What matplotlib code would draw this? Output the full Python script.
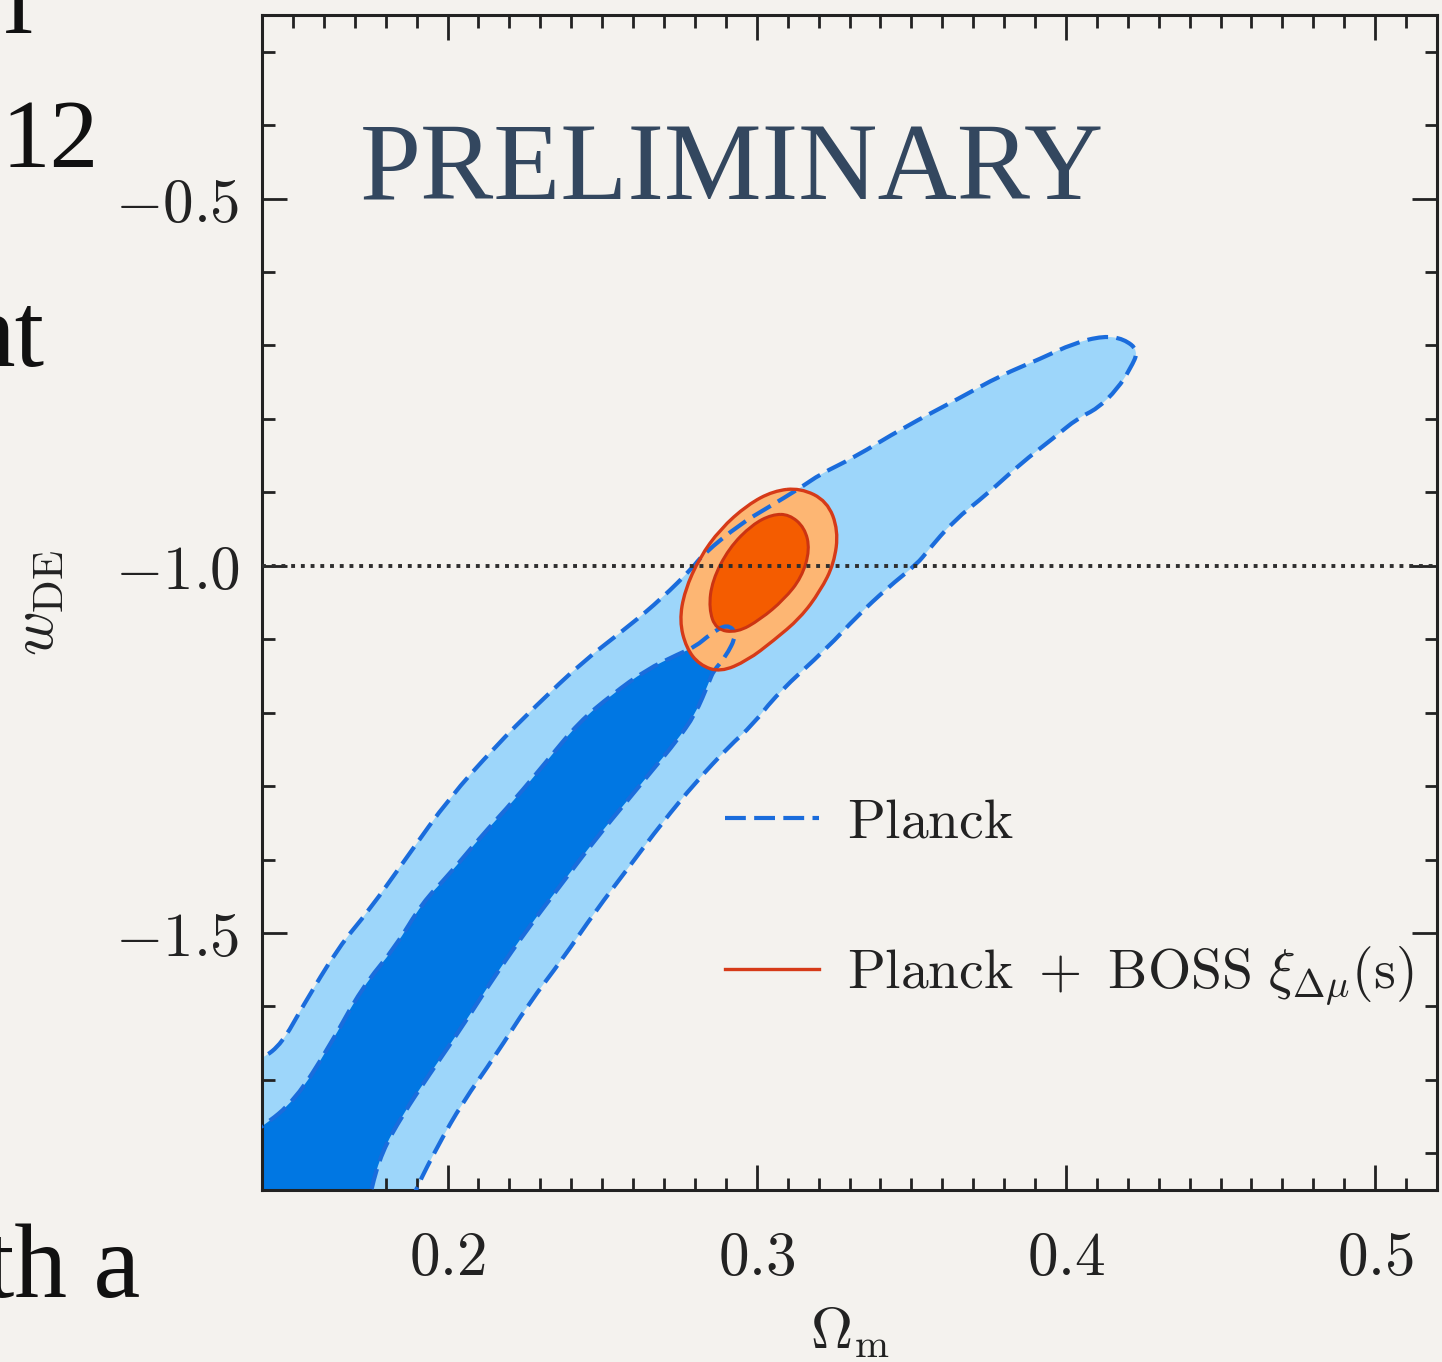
import numpy as np
import matplotlib.pyplot as plt
from matplotlib.path import Path
from matplotlib.patches import PathPatch
from matplotlib.lines import Line2D
from matplotlib.ticker import MultipleLocator, FuncFormatter

plt.rcParams['mathtext.fontset'] = 'cm'

# Planck 95% contour (Omega_m, w_DE); first/last points lie outside the frame
planck_2s_om = [0.125, 0.140, 0.1465, 0.153, 0.1648, 0.1745, 0.1875, 0.2004, 0.2155, 0.2285,
                0.2436, 0.2587, 0.2694, 0.2792, 0.2827, 0.2947, 0.3035, 0.3141, 0.3206, 0.3313,
                0.3474, 0.3659, 0.3788, 0.3918, 0.4025, 0.4122, 0.4187, 0.4235, 0.4209, 0.4167,
                0.4102, 0.4038, 0.3960, 0.3853, 0.3746, 0.3636, 0.3552, 0.3520, 0.3423, 0.3326,
                0.3228, 0.3067, 0.2986, 0.2910, 0.2802, 0.2694, 0.2587, 0.2479, 0.2371, 0.2263,
                0.2155, 0.2047, 0.1972, 0.1896, 0.1870, 0.125]
planck_2s_w = [-1.700, -1.672, -1.650, -1.601, -1.519, -1.470, -1.393, -1.317, -1.246, -1.191,
               -1.131, -1.082, -1.044, -1.003, -0.984, -0.943, -0.921, -0.894, -0.875, -0.853,
               -0.812, -0.771, -0.741, -0.718, -0.697, -0.687, -0.691, -0.707, -0.731, -0.759,
               -0.786, -0.799, -0.826, -0.861, -0.902, -0.939, -0.980, -0.997, -1.030, -1.068,
               -1.112, -1.174, -1.217, -1.246, -1.295, -1.350, -1.410, -1.470, -1.536, -1.596,
               -1.667, -1.732, -1.787, -1.850, -1.880, -1.880]

# Planck 68% contour
planck_1s_om = [0.125, 0.140, 0.1508, 0.1616, 0.1724, 0.1832, 0.1918, 0.2004, 0.2101, 0.2220,
                0.2317, 0.2425, 0.2533, 0.2641, 0.2748, 0.2802, 0.2850, 0.2905, 0.2937, 0.2898,
                0.2860, 0.2846, 0.2802, 0.2738, 0.2673, 0.2587, 0.2479, 0.2371, 0.2263, 0.2155,
                0.2047, 0.1939, 0.1853, 0.1788, 0.1752, 0.1740, 0.125]
planck_1s_w = [-1.800, -1.765, -1.727, -1.656, -1.574, -1.519, -1.459, -1.421, -1.372, -1.317,
               -1.268, -1.213, -1.175, -1.142, -1.120, -1.110, -1.093, -1.079, -1.093, -1.125,
               -1.143, -1.158, -1.202, -1.240, -1.273, -1.317, -1.372, -1.432, -1.492, -1.557,
               -1.628, -1.694, -1.749, -1.798, -1.850, -1.880, -1.880]

# Planck + BOSS contours
boss_2s_om = [0.3141, 0.3228, 0.3264, 0.3250, 0.3206, 0.3141, 0.3054, 0.2970, 0.2882,
              0.2815, 0.2772, 0.2750, 0.2767, 0.2815, 0.2882, 0.2970, 0.3054]
boss_2s_w = [-0.894, -0.912, -0.952, -0.997, -1.034, -1.071, -1.102, -1.129, -1.145,
             -1.135, -1.112, -1.075, -1.034, -0.989, -0.950, -0.917, -0.898]

boss_1s_om = [0.3105, 0.3155, 0.3172, 0.3145, 0.3088, 0.3012, 0.2937, 0.2868, 0.2845,
              0.2856, 0.2910, 0.2985, 0.3050]
boss_1s_w = [-0.930, -0.948, -0.978, -1.016, -1.046, -1.073, -1.091, -1.087, -1.058,
             -1.020, -0.976, -0.944, -0.930]

w_lcdm = -1.0
labels = [r'$\mathrm{Planck}$', r'$\mathrm{Planck}\ +\ \mathrm{BOSS}\ \xi_{\Delta\mu}(\mathrm{s})$']

bg = '#F4F2EE'
light_blue = '#9DD6FA'
dark_blue = '#0077E3'
dash_blue = '#1A6CDC'
light_orange = '#FDB673'
dark_orange = '#F45C00'
red_line = '#D63A18'


def smooth_path(xs, ys):
    # closed curve through midpoints, original points used as control points
    pts = np.column_stack([xs, ys])
    mids = (pts + np.roll(pts, -1, axis=0)) / 2
    verts = [mids[-1]]
    codes = [Path.MOVETO]
    for i in range(len(pts)):
        verts += [pts[i], mids[i]]
        codes += [Path.CURVE3, Path.CURVE3]
    return Path(verts, codes)


fig = plt.figure(figsize=(14.42, 13.62), dpi=100)
fig.patch.set_facecolor(bg)
ax = fig.add_axes([262 / 1442, 1 - 1190 / 1362, 1175 / 1442, 1175 / 1362])
ax.set_facecolor(bg)

p2 = smooth_path(planck_2s_om, planck_2s_w)
p1 = smooth_path(planck_1s_om, planck_1s_w)
b2 = smooth_path(boss_2s_om, boss_2s_w)
b1 = smooth_path(boss_1s_om, boss_1s_w)

ax.add_patch(PathPatch(p2, facecolor=light_blue, edgecolor='none', zorder=1))
ax.add_patch(PathPatch(p1, facecolor=dark_blue, edgecolor='none', zorder=2))
ax.add_patch(PathPatch(b2, facecolor=light_orange, edgecolor='none', zorder=3))
ax.add_patch(PathPatch(b1, facecolor=dark_orange, edgecolor='none', zorder=4))
ax.add_patch(PathPatch(p2, fill=False, edgecolor=dash_blue, lw=3.0, linestyle=(0, (5, 2)), zorder=5))
ax.add_patch(PathPatch(p1, fill=False, edgecolor=dash_blue, lw=3.0, linestyle=(0, (5, 2)), zorder=5))
ax.add_patch(PathPatch(b2, fill=False, edgecolor=red_line, lw=2.4, zorder=6))
ax.add_patch(PathPatch(b1, fill=False, edgecolor='#CC3412', lw=2.2, zorder=6))

ax.axhline(w_lcdm, color='#2e2e2e', lw=2.8, linestyle=(0, (1, 1.5)), zorder=7)

ax.set_xlim(0.14, 0.52)
ax.set_ylim(-1.85, -0.25)

ax.xaxis.set_major_locator(MultipleLocator(0.1))
ax.xaxis.set_minor_locator(MultipleLocator(0.01))
ax.yaxis.set_major_locator(MultipleLocator(0.5))
ax.yaxis.set_minor_locator(MultipleLocator(0.1))
fmt = FuncFormatter(lambda v, p: f'${v:.1f}$')
ax.xaxis.set_major_formatter(fmt)
ax.yaxis.set_major_formatter(fmt)
ax.tick_params(which='both', direction='in', top=True, right=True, width=2, color='#222222')
ax.tick_params(which='major', length=18, labelsize=44, labelcolor='#222222')
ax.tick_params(which='minor', length=9)
ax.tick_params(axis='x', which='major', pad=28)
ax.tick_params(axis='y', which='major', pad=16)
for s in ax.spines.values():
    s.set_linewidth(2.2)
    s.set_color('#222222')

ax.set_xlabel(r'$\Omega_{\rm m}$', fontsize=42, color='#222222', va='top')
ax.xaxis.set_label_coords(0.5, -0.096)
ax.set_ylabel(r'$w_{\rm DE}$', fontsize=44, color='#222222')
ax.yaxis.set_label_coords(-0.166, 0.5)

handles = [Line2D([], [], color=dash_blue, lw=3.0, linestyle=(0, (5, 2))),
           Line2D([], [], color=red_line, lw=2.4)]
leg = ax.legend(handles, labels, loc='upper left', bbox_to_anchor=(0.394, 0.336),
                frameon=False, fontsize=40, handlelength=1.7, handletextpad=0.5,
                labelspacing=1.72, borderpad=0, borderaxespad=0)
for t in leg.get_texts():
    t.set_color('#222222')

# slide text around the chart
fig.text(360 / 1442, 1 - 200 / 1362, 'PRELIMINARY', fontsize=79, family='Liberation Serif',
         color='#33475F', ha='left', va='baseline')
serif = dict(family='Liberation Serif', fontsize=76, color='#111111', va='baseline')
fig.text(19 / 1442, 1 - 33 / 1362, 'l', ha='center', **serif)
fig.text(2 / 1442, 1 - 167 / 1362, '12', ha='left', family='Liberation Serif', fontsize=70,
         color='#111111', va='baseline')
fig.text(45 / 1442, 1 - 366 / 1362, 'nt', ha='right', **serif)
fig.text(140 / 1442, 1 - 1297 / 1362, 'th a', ha='right', **serif)

fig.savefig('out.png', dpi=100, facecolor=bg)
